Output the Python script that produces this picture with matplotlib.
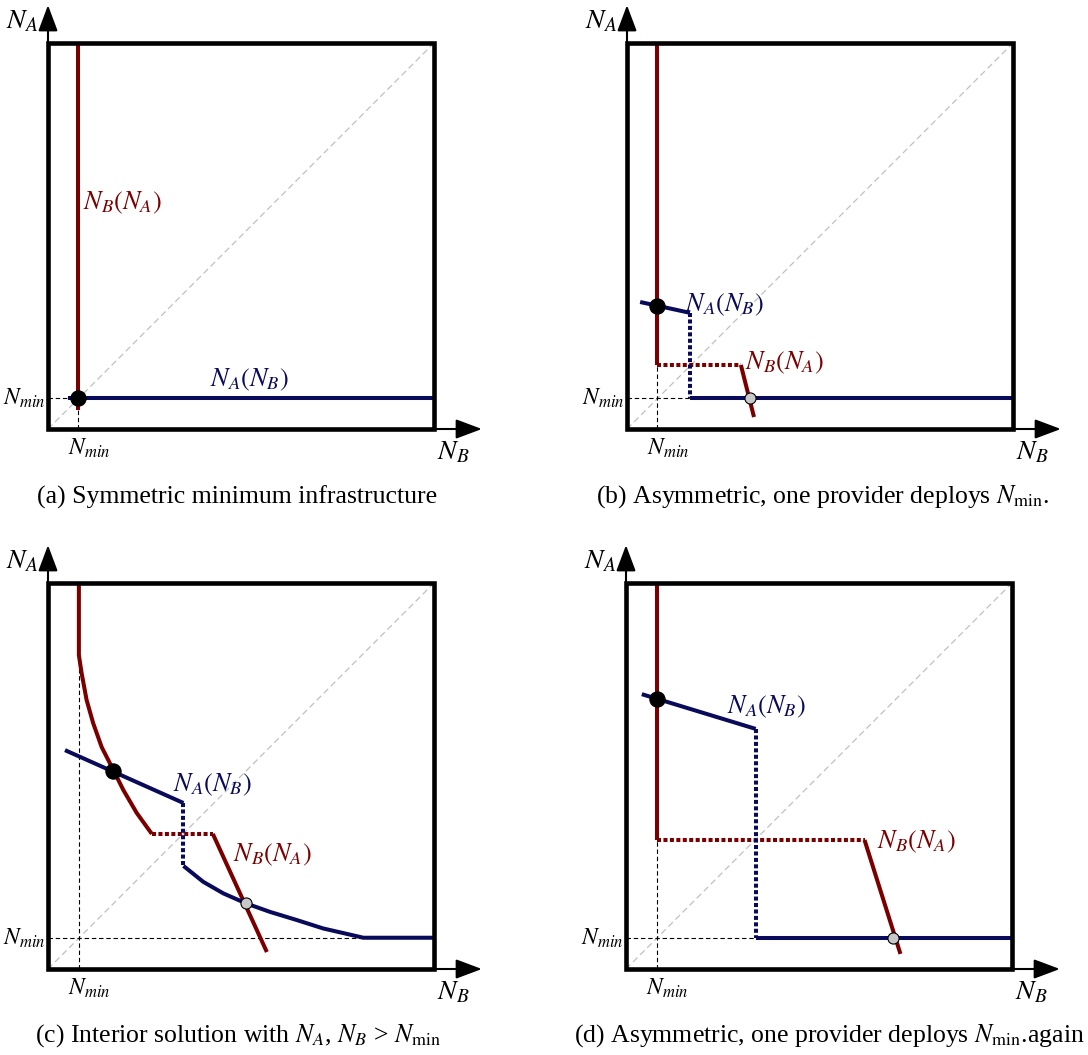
import matplotlib
matplotlib.use("Agg")
import matplotlib.pyplot as plt

plt.rcParams['font.family'] = ['Liberation Serif', 'DejaVu Serif']
plt.rcParams['mathtext.fontset'] = 'stix'

RED = '#7a0000'
BLUE = '#0a0a5a'

# reaction curves, box coordinates 0..10 on both axes
n_min = 0.8

# (a) symmetric minimum infrastructure
a_red_x = [0.78, 0.78]
a_red_y = [10.0, 0.5]
a_blue_x = [0.52, 10.0]
a_blue_y = [0.8, 0.8]
a_eq_black = (0.78, 0.8)

# (b) asymmetric
b_red_x = [0.78, 0.78]
b_red_y = [10.0, 1.66]
b_red_dot_x = [0.78, 2.95]
b_red_dot_y = [1.66, 1.66]
b_red2_x = [2.95, 3.29]
b_red2_y = [1.66, 0.31]
b_blue_x = [0.34, 1.63]
b_blue_y = [3.29, 3.01]
b_blue_dot_x = [1.63, 1.63]
b_blue_dot_y = [3.01, 0.8]
b_blue2_x = [1.63, 10.0]
b_blue2_y = [0.8, 0.8]
b_eq_black = (0.78, 3.19)
b_eq_gray = (3.19, 0.8)

# (c) interior solution
c_red_x = [0.8, 0.8, 0.87, 1.00, 1.17, 1.39, 1.69, 1.95, 2.30, 2.69]
c_red_y = [10.0, 8.13, 7.67, 6.97, 6.37, 5.75, 5.16, 4.64, 4.04, 3.50]
c_red_dot_x = [2.69, 4.27]
c_red_dot_y = [3.50, 3.50]
c_red2_x = [4.27, 5.67]
c_red2_y = [3.50, 0.44]
c_blue_x = [0.44, 3.51]
c_blue_y = [5.67, 4.30]
c_blue_dot_x = [3.51, 3.51]
c_blue_dot_y = [4.30, 2.67]
c_blue2_x = [3.51, 4.02, 4.54, 5.13, 5.75, 6.44, 7.13, 7.74, 8.17, 10.0]
c_blue2_y = [2.67, 2.26, 1.96, 1.70, 1.48, 1.27, 1.05, 0.91, 0.81, 0.81]
c_eq_black = (1.69, 5.14)
c_eq_gray = (5.13, 1.70)

# (d) asymmetric again
d_red_x = [0.8, 0.8]
d_red_y = [10.0, 3.34]
d_red_dot_x = [0.8, 6.18]
d_red_dot_y = [3.34, 3.34]
d_red2_x = [6.18, 7.11]
d_red2_y = [3.34, 0.39]
d_blue_x = [0.41, 3.36]
d_blue_y = [7.12, 6.22]
d_blue_dot_x = [3.36, 3.36]
d_blue_dot_y = [6.22, 0.8]
d_blue2_x = [3.36, 10.0]
d_blue2_y = [0.8, 0.8]
d_eq_black = (0.8, 6.99)
d_eq_gray = (6.93, 0.8)

captions = ["(a) Symmetric minimum infrastructure",
            r"(b) Asymmetric, one provider deploys $N_{\rm min}$.",
            r"(c) Interior solution with $N_A$, $N_B$ > $N_{\rm min}$",
            r"(d) Asymmetric, one provider deploys $N_{\rm min}$.again"]

W, H = 1088, 1055
fig = plt.figure(figsize=(W / 100, H / 100), dpi=100)


def make_axes(left, top):
    ax = fig.add_axes([left / W, 1 - (top + 386) / H, 386 / W, 386 / H])
    ax.set_xlim(0, 10)
    ax.set_ylim(0, 10)
    ax.axis('off')
    # axis arrows
    style = '-|>,head_length=0.8,head_width=0.3'
    ax.annotate('', xy=(0, 10.98), xytext=(0, 0),
                arrowprops=dict(arrowstyle=style, lw=1.5, color='black',
                                mutation_scale=20, shrinkA=0, shrinkB=0),
                annotation_clip=False)
    ax.annotate('', xy=(11.24, 0), xytext=(0, 0),
                arrowprops=dict(arrowstyle=style, lw=1.5, color='black',
                                mutation_scale=20, shrinkA=0, shrinkB=0),
                annotation_clip=False)
    ax.add_patch(plt.Rectangle((0, 0), 10, 10, fill=False, lw=3.3,
                               ec='black', zorder=6, clip_on=False))
    ax.plot([0, 10], [0, 10], color='#c0c0c0', lw=0.9, ls=(0, (5, 3)), zorder=1)
    ax.text(-0.67, 10.55, '$N_A$', fontsize=20, ha='center', va='center')
    ax.text(10.5, -0.62, '$N_B$', fontsize=20, ha='center', va='center')
    return ax


def solid(ax, x, y, c):
    ax.plot(x, y, color=c, lw=2.9, solid_capstyle='butt', solid_joinstyle='round',
            zorder=3, clip_on=False)


def dotted(ax, x, y, c):
    ax.plot(x, y, color=c, lw=2.9, ls=(0, (1.0, 0.6)), dash_capstyle='butt',
            zorder=3, clip_on=False)


def guides(ax, xmax, ymax, nx=n_min, ny=n_min):
    ax.plot([0, xmax], [ny, ny], color='black', lw=0.8, ls=(0, (4, 2.5)), zorder=2)
    ax.plot([nx, nx], [0, ymax], color='black', lw=0.8, ls=(0, (4, 2.5)), zorder=2)
    ax.text(-0.05, ny, '$N_{min}$', fontsize=17, ha='right', va='center')
    ax.text(nx + 0.28, -0.5, '$N_{min}$', fontsize=17, ha='center', va='center')


def eq(ax, p, c, s):
    ax.plot([p[0]], [p[1]], 'o', color=c, mec='black', ms=s, mew=0.8, zorder=5)


def label(ax, x, y, s, c):
    ax.text(x, y, s, color=c, fontsize=19, ha='left', va='center')


LA = r'$N_A(N_B)$'
LB = r'$N_B(N_A)$'

# (a)
ax = make_axes(48, 43)
guides(ax, 0.78, 0.8, nx=0.78)
solid(ax, a_red_x, a_red_y, RED)
solid(ax, a_blue_x, a_blue_y, BLUE)
eq(ax, a_eq_black, 'black', 11)
label(ax, 0.91, 5.85, LB, RED)
label(ax, 4.2, 1.27, LA, BLUE)

# (b)
ax = make_axes(627, 43)
guides(ax, 1.63, 1.66, nx=0.78)
solid(ax, b_red_x, b_red_y, RED)
dotted(ax, b_red_dot_x, b_red_dot_y, RED)
solid(ax, b_red2_x, b_red2_y, RED)
solid(ax, b_blue_x, b_blue_y, BLUE)
dotted(ax, b_blue_dot_x, b_blue_dot_y, BLUE)
solid(ax, b_blue2_x, b_blue2_y, BLUE)
eq(ax, b_eq_black, 'black', 11)
eq(ax, b_eq_gray, '#c8c8c8', 8)
label(ax, 1.5, 3.21, LA, BLUE)
label(ax, 3.06, 1.71, LB, RED)

# (c)
ax = make_axes(48, 583)
guides(ax, 8.17, 8.13)
solid(ax, c_red_x, c_red_y, RED)
dotted(ax, c_red_dot_x, c_red_dot_y, RED)
solid(ax, c_red2_x, c_red2_y, RED)
solid(ax, c_blue_x, c_blue_y, BLUE)
dotted(ax, c_blue_dot_x, c_blue_dot_y, BLUE)
solid(ax, c_blue2_x, c_blue2_y, BLUE)
eq(ax, c_eq_black, 'black', 11)
eq(ax, c_eq_gray, '#c8c8c8', 8)
label(ax, 3.24, 4.77, LA, BLUE)
label(ax, 4.79, 2.95, LB, RED)

# (d)
ax = make_axes(626, 583)
guides(ax, 3.36, 3.34)
solid(ax, d_red_x, d_red_y, RED)
dotted(ax, d_red_dot_x, d_red_dot_y, RED)
solid(ax, d_red2_x, d_red2_y, RED)
solid(ax, d_blue_x, d_blue_y, BLUE)
dotted(ax, d_blue_dot_x, d_blue_dot_y, BLUE)
solid(ax, d_blue2_x, d_blue2_y, BLUE)
eq(ax, d_eq_black, 'black', 11)
eq(ax, d_eq_gray, '#c8c8c8', 8)
label(ax, 2.61, 6.79, LA, BLUE)
label(ax, 6.49, 3.29, LB, RED)

# captions
fig.text(237 / W, 1 - 497 / H, captions[0], fontsize=18.5, ha='center', va='center')
fig.text(823 / W, 1 - 497 / H, captions[1], fontsize=18.5, ha='center', va='center')
fig.text(238 / W, 1 - 1036 / H, captions[2], fontsize=18.5, ha='center', va='center')
fig.text(1085 / W, 1 - 1036 / H, captions[3], fontsize=18.5, ha='right', va='center')

fig.savefig('out.png', dpi=100)
